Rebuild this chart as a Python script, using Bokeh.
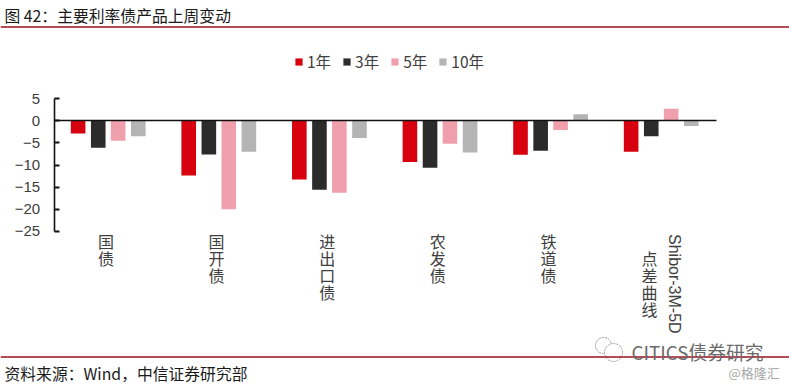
from bokeh.plotting import figure
from bokeh.embed import file_html
from bokeh.resources import INLINE
from bokeh.models import Range1d, FixedTicker, Span, Legend, LegendItem, Label, ColumnDataSource
from bokeh.core.properties import value
import math

categories = ["国\n债", "国\n开\n债", "进\n出\n口\n债", "农\n发\n债", "铁\n道\n债", "点\n差\n曲\n线"]
y1 = [-2.9, -12.4, -13.3, -9.3, -7.7, -7.0]
y3 = [-6.1, -7.6, -15.6, -10.6, -6.8, -3.5]
y5 = [-4.5, -20.0, -16.3, -5.2, -2.1, 2.7]
y10 = [-3.5, -7.0, -3.9, -7.2, 1.5, -1.2]
series_names = ["1年", "3年", "5年", "10年"]
colors = ["#D7000F", "#2B2B2B", "#EFA0AC", "#B4B4B4"]
yticks = [5, 0, -5, -10, -15, -20, -25]

W, H = 789, 385
X0, STEP = 52.4, 110.6     # px of category band start, px per category
Y0, UNIT = 120.3, 4.42     # px of zero, px per unit
fx = lambda px: (px - X0) / STEP - 0.5
fy = lambda py: (Y0 - py) / UNIT

p = figure(width=W, height=H, output_backend="svg", toolbar_location=None,
           x_range=Range1d(fx(0), fx(W)), y_range=Range1d(fy(H), fy(0)),
           min_border=0, outline_line_color=None, background_fill_color="white")
p.grid.visible = False

FONT = "Noto Sans CJK SC"
TXT = "#404040"

# axes
ya = p.yaxis[0]
ya.fixed_location = fx(53.6)
ya.bounds = (-25, 5)
ya.ticker = FixedTicker(ticks=yticks)
ya.major_tick_in, ya.major_tick_out, ya.minor_tick_line_color = 5, 0, None
ya.major_tick_line_width = 2
ya.major_tick_line_color = "#111111"
ya.axis_line_width = 1.6
ya.axis_line_color = "#111111"
ya.major_label_standoff = 14
ya.major_label_text_font = "Liberation Sans"
ya.major_label_text_font_size = "15px"
ya.major_label_text_color = TXT

xa = p.xaxis[0]
xa.fixed_location = 0
xa.bounds = (fx(53.6), fx(716))
xa.ticker = FixedTicker(ticks=[])
xa.major_tick_line_color = None
xa.minor_tick_line_color = None
xa.major_label_text_font_size = "0px"
xa.axis_line_width = 1.6
xa.axis_line_color = "#111111"

# bars
xs = list(range(len(categories)))
offsets = [-0.272, -0.09, 0.09, 0.272]
items = []
for vals, off, col, name in zip([y1, y3, y5, y10], offsets, colors, series_names):
    src = ColumnDataSource(dict(x=[x + off for x in xs], top=vals))
    r = p.vbar(x="x", top="top", bottom=0, width=0.132, source=src, fill_color=col, line_color=None, level="underlay")
    items.append(LegendItem(label=value(name), renderers=[r]))

leg = Legend(items=items, orientation="horizontal", location=(294, 385 - 72),
             background_fill_alpha=0, border_line_color=None,
             glyph_width=9, glyph_height=9, label_standoff=4, spacing=11, padding=0, margin=0,
             label_text_font=FONT, label_text_font_size="15.5px", label_text_color=TXT)
p.add_layout(leg, "center")

# category labels
p.text(x=[x - 0.02 for x in xs[:5]] + [fx(649)], y=[fy(228)] * 5 + [fy(245)], text=categories,
       text_font=value(FONT), text_font_size="16px", text_color=TXT,
       text_align="center", text_baseline="top", text_line_height=0.72)
p.text(x=[fx(674)], y=[fy(233.5)], text=["Shibor-3M-5D"], angle=-math.pi / 2,
       text_font=value("Liberation Sans"), text_font_size="16px", text_color=TXT,
       text_align="left", text_baseline="middle")

# header / footer rules
p.add_layout(Span(location=fy(26.5), dimension="width", line_color="#9B1020", line_width=1.5))
p.add_layout(Span(location=fy(356.5), dimension="width", line_color="#9B1020", line_width=1.5))

def label(px, py, text, font=FONT, size="15.8px", color="#1A1A1A"):
    p.add_layout(Label(x=fx(px), y=fy(py), text=text, text_font=font, text_font_size=size,
                       text_color=color, text_baseline="middle", text_align="left"))

label(4, 15, "图 42：主要利率债产品上周变动")
label(4, 373, "资料来源：Wind，中信证券研究部")
label(631, 351, "CITICS债券研究", size="18.8px", color="#6A6A6A")
label(728, 372, "@格隆汇", size="13px", color="#A8A8A8")

# watermark icon
p.circle(x=[fx(603), fx(613)], y=[fy(345), fy(352)], radius=[8 / STEP, 9 / STEP], fill_color="white",
         line_color="#9A9A9A", line_dash="2 1", line_width=1)

open("out.html", "w").write(file_html(p, INLINE))
